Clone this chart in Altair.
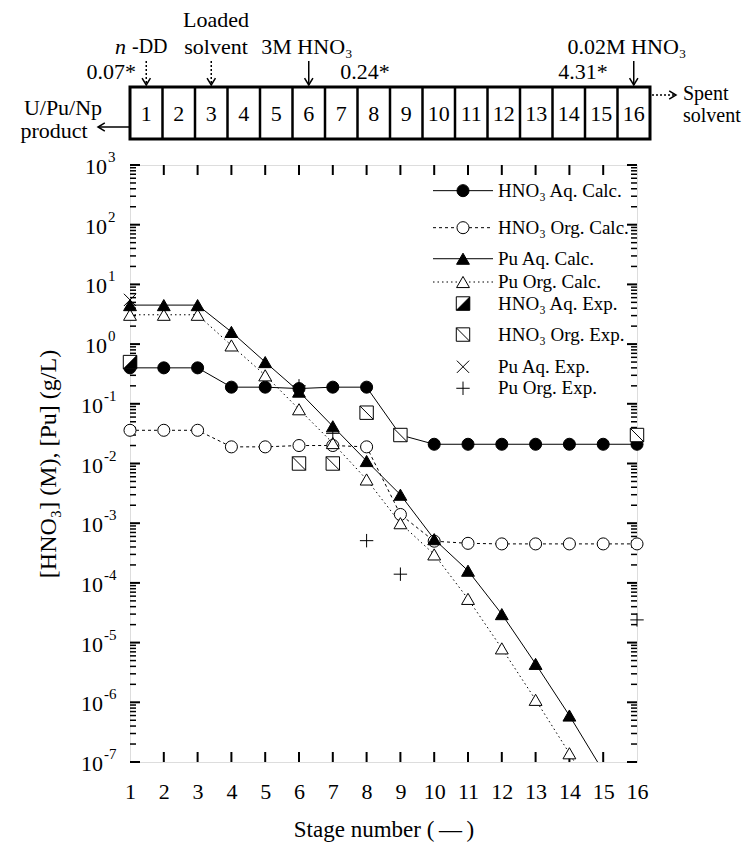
import altair as alt
import pandas as pd

# ---------------- data ----------------
stages = list(range(1, 17))
hno3_aq_calc = [0.40, 0.40, 0.40, 0.19, 0.19, 0.18, 0.19, 0.19, 0.030,
                0.021, 0.021, 0.021, 0.021, 0.021, 0.021, 0.021]
hno3_org_calc = [0.036, 0.036, 0.036, 0.019, 0.019, 0.020, 0.020, 0.019, 0.0014,
                 0.00050, 0.00046, 0.00045, 0.00045, 0.00045, 0.00045, 0.00045]
pu_stages = list(range(1, 16))
pu_aq_calc = [4.5, 4.5, 4.5, 1.6, 0.50, 0.16, 0.042, 0.011, 0.0030,
              0.00054, 0.00016, 3.0e-5, 4.4e-6, 6.0e-7, 7.0e-8]
pu_org_calc = [3.1, 3.1, 3.1, 0.95, 0.30, 0.081, 0.022, 0.0054, 0.0010,
               0.00030, 5.4e-5, 8.0e-6, 1.1e-6, 1.4e-7, 1.5e-8]

hno3_aq_exp_stage = [1]
hno3_aq_exp = [0.50]
hno3_org_exp_stage = [6, 7, 8, 9, 16]
hno3_org_exp = [0.010, 0.010, 0.071, 0.030, 0.030]
pu_aq_exp_stage = [1]
pu_aq_exp = [5.5]
pu_org_exp_stage = [6, 7, 8, 9, 16]
pu_org_exp = [0.20, 0.032, 5.1e-4, 1.4e-4, 2.4e-5]

ytick_major = [1e3, 1e2, 1e1, 1e0, 1e-1, 1e-2, 1e-3, 1e-4, 1e-5, 1e-6, 1e-7]
ytick_exp = ["3", "2", "1", "0", "-1", "-2", "-3", "-4", "-5", "-6", "-7"]
decades = [-7, -6, -5, -4, -3, -2, -1, 0, 1, 2]
minor_mults = [2, 3, 4, 5, 6, 7, 8, 9]

legend_labels = ["HNO₃ Aq. Calc.", "HNO₃ Org. Calc.", "Pu Aq. Calc.", "Pu Org. Calc.",
                 "HNO₃ Aq. Exp.", "HNO₃ Org. Exp.", "Pu Aq. Exp.", "Pu Org. Exp."]

# ---------------- layout / style ----------------
FONT = "Liberation Serif"
W, H = 507, 597
PADL, PADT = 130, 165
DEC = H / 10.0
legend_rows = [r * DEC for r in [0.43, 1.05, 1.57, 1.96, 2.32, 2.84, 3.38, 3.74]]
LEG_SYM_X, LEG_L0, LEG_L1, LEG_TXT_X = 333, 303, 363, 368

xs = alt.Scale(domain=[1, 16], nice=False, zero=False)
ys = alt.Scale(type="log", domain=[1e-7, 1e3], nice=False)
xaxis = alt.Axis(values=stages, labelFont=FONT, labelFontSize=22, labelColor="black",
                 labelPadding=19, labelFlush=False, labelOverlap=False,
                 ticks=False, domain=False, grid=False,
                 title="Stage number (\u2009—\u2009)", titleFont=FONT, titleFontSize=23,
                 titleFontWeight="normal", titleColor="black", titlePadding=16)
yaxis = alt.Axis(labels=False, ticks=False, domain=False, grid=False,
                 title="[HNO₃] (M), [Pu] (g/L)", titleFont=FONT, titleFontSize=24,
                 titleFontWeight="normal", titleColor="black", titlePadding=70)


def X(f="stage"):
    return alt.X(f"{f}:Q", scale=xs, axis=xaxis)


def Y(f="value"):
    return alt.Y(f"{f}:Q", scale=ys, axis=yaxis)


def PX(f):
    return alt.X(f"{f}:Q", scale=None, axis=None)


def PY(f):
    return alt.Y(f"{f}:Q", scale=None, axis=None)


SQ = "M-1,-1L1,-1L1,1L-1,1Z"
SQ_DIAG = "M-1,-1L1,-1L1,1L-1,1ZM-1,-1L1,1"
TRI_BR = "M1,-1L1,1L-1,1Z"
XSHAPE = "M-1,-1L1,1M-1,1L1,-1"
PLUS = "M0,-1L0,1M-1,0L1,0"

styles = {
    "c_fill": dict(shape="circle", filled=True, fill="black", stroke="black", strokeWidth=1, size=145, opacity=1),
    "c_open": dict(shape="circle", filled=True, fill="white", stroke="black", strokeWidth=1, size=145, opacity=1),
    "t_fill": dict(shape="triangle-up", filled=True, fill="black", stroke="black", strokeWidth=1, size=165, opacity=1),
    "t_open": dict(shape="triangle-up", filled=True, fill="white", stroke="black", strokeWidth=1, size=165, opacity=1),
    "sq_white": dict(shape=SQ, filled=True, fill="white", stroke="black", strokeWidth=1, size=180, opacity=1),
    "sq_tri": dict(shape=TRI_BR, filled=True, fill="black", stroke="black", strokeWidth=0.5, size=180, opacity=1),
    "sq_diag": dict(shape=SQ_DIAG, filled=True, fill="white", stroke="black", strokeWidth=1, size=180, opacity=1),
    "xmark": dict(shape=XSHAPE, filled=False, color="black", strokeWidth=1, size=150, opacity=1),
    "plus": dict(shape=PLUS, filled=False, color="black", strokeWidth=1, size=180, opacity=1),
}


def sdf(st, vals):
    return pd.DataFrame({"stage": st, "value": vals})


def line(df, dash=None):
    kw = dict(color="black", strokeWidth=1, clip=True)
    if dash:
        kw["strokeDash"] = dash
    return alt.Chart(df).mark_line(**kw).encode(x=X(), y=Y())


def pts(df, style):
    return alt.Chart(df).mark_point(**styles[style]).encode(x=X(), y=Y())


d_hac = sdf(stages, hno3_aq_calc)
d_hoc = sdf(stages, hno3_org_calc)
d_pac = sdf(pu_stages, pu_aq_calc)
d_poc = sdf(pu_stages, pu_org_calc)
d_hae = sdf(hno3_aq_exp_stage, hno3_aq_exp)
d_hoe = sdf(hno3_org_exp_stage, hno3_org_exp)
d_pae = sdf(pu_aq_exp_stage, pu_aq_exp)
d_poe = sdf(pu_org_exp_stage, pu_org_exp)

layers = []

# ---- inward ticks ----
major_df = pd.DataFrame({"v": ytick_major, "e": ytick_exp})
major_df["neg"] = major_df["e"].str.startswith("-")
major_df["bx"] = major_df["neg"].map({True: -27, False: -23})
major_df["ex"] = major_df["neg"].map({True: -26, False: -22})
major_df["base"] = "10"
minor_df = pd.DataFrame({"v": [m * 10.0 ** d for d in decades for m in minor_mults]})
xt_df = pd.DataFrame({"s": stages[1:-1]})
for x0, x1 in [(0, 10), (W - 10, W)]:
    layers.append(alt.Chart(major_df).mark_rule(color="black", strokeWidth=2).encode(
        y=Y("v"), x=alt.value(x0), x2=alt.value(x1)))
for x0, x1 in [(0, 6), (W - 6, W)]:
    layers.append(alt.Chart(minor_df).mark_rule(color="black", strokeWidth=1.5).encode(
        y=Y("v"), x=alt.value(x0), x2=alt.value(x1)))
for y0, y1 in [(H - 10, H), (0, 10)]:
    layers.append(alt.Chart(xt_df).mark_rule(color="black", strokeWidth=2).encode(
        x=X("s"), y=alt.value(y0), y2=alt.value(y1)))

# y tick labels: "10" with a raised exponent
layers.append(alt.Chart(major_df).mark_text(align="right", baseline="middle", font=FONT,
                                            fontSize=22, color="black", dy=2).encode(
    y=Y("v"), x=PX("bx"), text="base:N"))
layers.append(alt.Chart(major_df).mark_text(align="left", baseline="middle", font=FONT,
                                            fontSize=15, color="black", dy=-8).encode(
    y=Y("v"), x=PX("ex"), text="e:N"))

# ---- data ----
layers += [
    line(d_hac), line(d_hoc, [3, 3]), line(d_pac), line(d_poc, [1.5, 3]),
    pts(d_hoc, "c_open"), pts(d_hac, "c_fill"),
    pts(d_poc[d_poc["value"] >= 1e-7], "t_open"), pts(d_pac[d_pac["value"] >= 1e-7], "t_fill"),
    pts(d_hoe, "sq_diag"), pts(d_hae, "sq_white"), pts(d_hae, "sq_tri"),
    pts(d_pae, "xmark"), pts(d_poe, "plus"),
]

# ---- legend ----
leg = pd.DataFrame({"label": legend_labels, "y": legend_rows})
leg["x0"] = LEG_L0
leg["x1"] = LEG_L1
leg["xs"] = LEG_SYM_X
leg["xt"] = LEG_TXT_X
layers.append(alt.Chart(leg).mark_text(align="left", baseline="middle", font=FONT, fontSize=19,
                                       color="black").encode(x=PX("xt"), y=PY("y"), text="label:N"))
for rows, dash in [([0, 2], None), ([1], [3, 3]), ([3], [1.5, 3])]:
    kw = dict(color="black", strokeWidth=1)
    if dash:
        kw["strokeDash"] = dash
    layers.append(alt.Chart(leg.iloc[rows]).mark_rule(**kw).encode(
        x=PX("x0"), x2="x1:Q", y=PY("y")))
for idx, sty in [(0, ["c_fill"]), (1, ["c_open"]), (2, ["t_fill"]), (3, ["t_open"]),
                 (4, ["sq_white", "sq_tri"]), (5, ["sq_diag"]), (6, ["xmark"]), (7, ["plus"])]:
    for s in sty:
        layers.append(alt.Chart(leg.iloc[[idx]]).mark_point(**styles[s]).encode(
            x=PX("xs"), y=PY("y")))

# ---- process diagram above the plot ----
cell_w = 32.5
box_x0 = 0
box_top, box_bot = -78, -26
box_x1 = box_x0 + 16 * cell_w
cells = pd.DataFrame({"n": stages})
cells["xl"] = box_x0 + (cells["n"] - 1) * cell_w
cells["xc"] = box_x0 + (cells["n"] - 0.5) * cell_w
cells["yc"] = (box_top + box_bot) / 2
one = pd.DataFrame({"a": [0]})
layers.append(alt.Chart(one).mark_rect(filled=False, stroke="black", strokeWidth=3).encode(
    x=alt.value(box_x0), x2=alt.value(box_x1), y=alt.value(box_top), y2=alt.value(box_bot)))
layers.append(alt.Chart(cells[cells["n"] > 1]).mark_rule(color="black", strokeWidth=2.5).encode(
    x=PX("xl"), y=alt.value(box_top), y2=alt.value(box_bot)))
layers.append(alt.Chart(cells).mark_text(font=FONT, fontSize=22, color="black", baseline="middle", dy=1).encode(
    x=PX("xc"), y=PY("yc"), text="n:N"))

cx = dict(zip(cells["n"], cells["xc"]))
feeds = pd.DataFrame({"x": [cx[1], cx[3], cx[6], cx[16]],
                      "kind": ["dot", "dot", "solid", "solid"]})
feeds["y0"] = -104
feeds["y1"] = -80
for kind, dash in [("dot", [2, 2]), ("solid", None)]:
    kw = dict(color="black", strokeWidth=1.5)
    if dash:
        kw["strokeDash"] = dash
    layers.append(alt.Chart(feeds[feeds["kind"] == kind]).mark_rule(**kw).encode(
        x=PX("x"), y=PY("y0"), y2="y1:Q"))
layers.append(alt.Chart(feeds).mark_point(shape="M-0.8,-1.3L0,0L0.8,-1.3", filled=False, color="black",
                                          strokeWidth=1.5, size=110, opacity=1).encode(x=PX("x"), y=PY("y1")))

# side arrows
side = pd.DataFrame({"x0": [box_x0, box_x1 + 2], "x1": [-32, 546],
                     "y": [-38, -70], "kind": ["solid", "dot"]})
layers.append(alt.Chart(side[side["kind"] == "solid"]).mark_rule(color="black", strokeWidth=1.5).encode(
    x=PX("x0"), x2="x1:Q", y=PY("y")))
layers.append(alt.Chart(side[side["kind"] == "dot"]).mark_rule(color="black", strokeWidth=1.5,
                                                               strokeDash=[2, 2]).encode(
    x=PX("x0"), x2="x1:Q", y=PY("y")))
layers.append(alt.Chart(side[side["kind"] == "solid"]).mark_point(shape="M1.3,-0.8L0,0L1.3,0.8", filled=False,
                                                                  color="black", strokeWidth=1.5, size=110,
                                                                  opacity=1).encode(x=PX("x1"), y=PY("y")))
layers.append(alt.Chart(side[side["kind"] == "dot"]).mark_point(shape="M-1.3,-0.8L0,0L-1.3,0.8", filled=False,
                                                                color="black", strokeWidth=1.5, size=110,
                                                                opacity=1).encode(x=PX("x1"), y=PY("y")))

ann_center = pd.DataFrame({
    "t": ["Loaded", "solvent", "3M HNO₃", "0.02M HNO₃", "0.24*", "4.31*", "U/Pu/Np", "product"],
    "x": [86, 86, 177, 497, 235, 453, -67, -76],
    "y": [-145, -118, -118, -118, -93, -93, -57, -34]})
ann_left = pd.DataFrame({"t": ["-DD", "Spent", "solvent"], "x": [2, 553, 553], "y": [-118, -71, -49]})
ann_right = pd.DataFrame({"t": ["0.07*"], "x": [6], "y": [-93]})
ann_ital = pd.DataFrame({"t": ["n"], "x": [-4], "y": [-118]})
for df, al, extra in [(ann_center, "center", {}), (ann_left, "left", {}), (ann_right, "right", {}),
                      (ann_ital, "right", {"fontStyle": "italic"})]:
    fs = 22
    layers.append(alt.Chart(df).mark_text(align=al, baseline="middle", font=FONT, fontSize=fs,
                                          color="black", **extra).encode(
        x=PX("x"), y=PY("y"), text="t:N"))
# the side label at the right edge is a touch smaller so it stays inside the page
layers[-3] = alt.Chart(ann_left).mark_text(align="left", baseline="middle", font=FONT, fontSize=20,
                                           color="black").encode(x=PX("x"), y=PY("y"), text="t:N")

chart = alt.layer(*layers).properties(
    width=W, height=H,
    autosize=alt.AutoSizeParams(type="none"),
    padding={"left": PADL, "top": PADT, "right": 746 - PADL - W, "bottom": 844 - PADT - H},
).configure_view(stroke="black", strokeWidth=2.5).configure(background="white")

chart.save("out.html", embed_options={"renderer": "svg", "actions": False})
